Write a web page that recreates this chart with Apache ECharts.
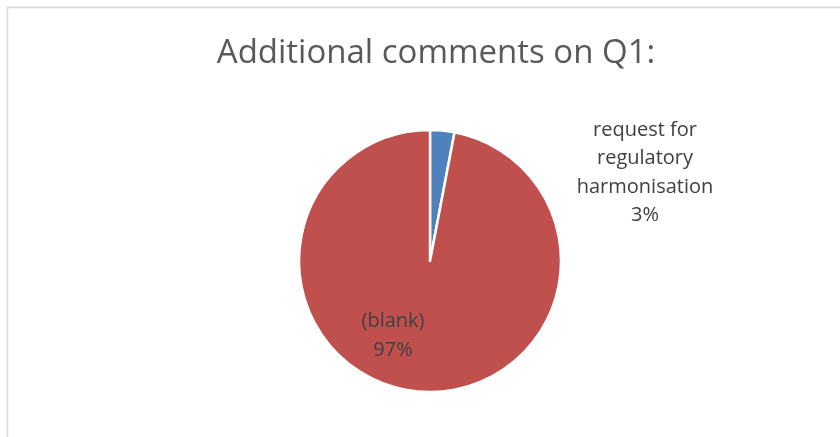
<!DOCTYPE html>
<html><head><meta charset="utf-8">
<script src="https://cdn.jsdelivr.net/npm/echarts@6/dist/echarts.min.js"></script>
<style>html,body{margin:0;padding:0;background:#fff}#c{width:840px;height:437px}</style>
</head><body><div id="c"></div>
<script>
const titleText = 'Additional comments on Q1:';
const categories = ['request for regulatory harmonisation', '(blank)'];
const labelNames = ['request for\nregulatory\nharmonisation', '(blank)'];
const values = [3, 97];
const colors = ['#4F81BD', '#C0504D'];

const chart = echarts.init(document.getElementById('c'));
const font = '"Open Sans", Lato, sans-serif';
chart.setOption({
  animation: false,
  graphic: [{
    type: 'rect', shape: {x: 7.5, y: 7.5, width: 900, height: 500},
    style: {fill: 'none', stroke: '#D9D9D9', lineWidth: 1.5}, silent: true
  }],
  title: {
    text: titleText, left: 431, top: 32, textAlign: 'center',
    textStyle: {fontFamily: font, fontSize: 33, fontWeight: 'normal', color: '#595959'}
  },
  series: [{
    type: 'pie',
    center: [430, 261],
    radius: 131,
    startAngle: 90,
    clockwise: true,
    itemStyle: {borderColor: '#fff', borderWidth: 2.5},
    data: categories.map((c, i) => ({
      name: c, value: values[i], itemStyle: {color: colors[i]},
      label: {formatter: labelNames[i] + '\n{d}%'}
    })),
    label: {
      show: true, position: 'inside',
      fontFamily: font, fontSize: 20, color: '#404040', lineHeight: 28.5,
      align: 'center'
    },
    labelLine: {show: false},
    labelLayout: function (p) {
      if (p.dataIndex === 0) return {x: 645, y: 173, align: 'center', verticalAlign: 'middle'};
      return {x: 393, y: 336, align: 'center', verticalAlign: 'middle'};
    }
  }]
});
</script></body></html>
